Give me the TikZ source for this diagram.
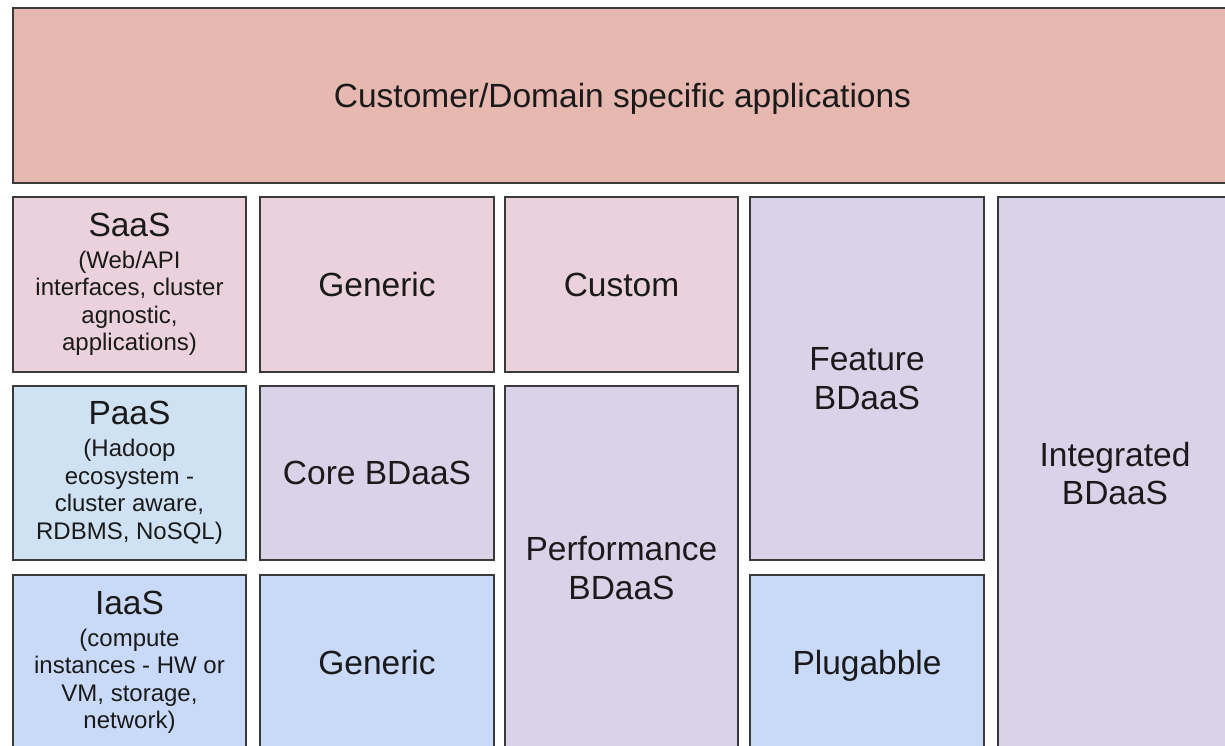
\documentclass[tikz,border=0pt]{standalone}
\usepackage{fontspec}
\setmainfont{Liberation Sans}
\newcommand\bigtxt{\fontsize{33.5}{38.5}\selectfont}
\newcommand\smalltxt{\fontsize{24}{27.6}\selectfont}
\definecolor{topc}{HTML}{E6B8AF}
\definecolor{pinkc}{HTML}{EAD1DC}
\definecolor{paasc}{HTML}{CFE2F3}
\definecolor{bluec}{HTML}{C9DAF8}
\definecolor{purplec}{HTML}{D9D2E9}
\definecolor{borderc}{HTML}{3A3A3A}
\definecolor{textc}{HTML}{1A1A1A}
\begin{document}
\begin{tikzpicture}[x=1pt,y=-1pt,
  cell/.style={draw=borderc, line width=1.3pt, anchor=north west, inner sep=0pt,
    outer sep=0pt, align=center, text=textc, font=\bigtxt},
  mixed/.style={cell, font=\smalltxt}]
\useasboundingbox (0,0) rectangle (1225,746);
\clip (0,0) rectangle (1225,746);
\fill[white] (0,0) rectangle (1225,746);
% top
\node[cell, fill=topc, minimum width=1219pt, minimum height=175pt, text depth=0pt] (top) at (13,8)
  {Customer/Domain specific applications};
% row 1
\node[mixed, fill=pinkc, minimum width=233pt, minimum height=175pt] (saas) at (13,197)
  {{\bigtxt SaaS}\\[4.1pt](Web/API\\interfaces, cluster\\agnostic,\\applications)};
\node[cell, fill=pinkc, minimum width=234pt, minimum height=175pt] (gen1) at (260,197) {Generic};
\node[cell, fill=pinkc, minimum width=233pt, minimum height=175pt] (custom) at (505,197) {Custom};
\node[cell, fill=purplec, minimum width=234pt, minimum height=363pt] (feature) at (750,197) {Feature\\BDaaS};
\node[cell, fill=purplec, minimum width=234pt, minimum height=553pt] (integ) at (998,197) {Integrated\\BDaaS};
% row 2
\node[mixed, fill=paasc, minimum width=233pt, minimum height=174pt] (paas) at (13,386)
  {{\bigtxt PaaS}\\[4.1pt](Hadoop\\ecosystem -\\cluster aware,\\RDBMS, NoSQL)};
\node[cell, fill=purplec, minimum width=234pt, minimum height=174pt] (core) at (260,386) {Core BDaaS};
\node[cell, fill=purplec, minimum width=233pt, minimum height=364pt] (perf) at (505,386) {Performance\\BDaaS};
% row 3
\node[mixed, fill=bluec, minimum width=233pt, minimum height=175pt] (iaas) at (13,575)
  {{\bigtxt IaaS}\\[4.1pt](compute\\instances - HW or\\VM, storage,\\network)};
\node[cell, fill=bluec, minimum width=234pt, minimum height=175pt] (gen3) at (260,575) {Generic};
\node[cell, fill=bluec, minimum width=234pt, minimum height=175pt, text depth=0pt] (plug) at (750,575) {Plugabble};
\end{tikzpicture}
\end{document}
